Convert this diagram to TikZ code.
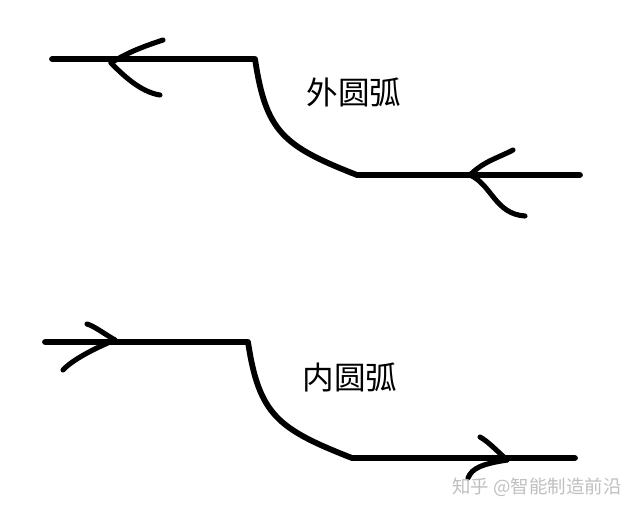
\documentclass[tikz,border=0pt]{standalone}
\usepackage{fontspec}
\newfontfamily\cjk{Noto Sans CJK SC}
\usetikzlibrary{positioning, calc}
\tikzset{
  pen/.style={line width=3.3pt, line cap=round, line join=round, draw=black},
  barb/.style={line width=2.9pt, line cap=round, draw=black},
  arclabel/.style={font=\cjk\fontsize{18}{20}\selectfont, inner sep=0pt},
  watermark/.style={font=\cjk\fontsize{10.5}{12}\selectfont, text=black!25, inner sep=0pt},
}

\begin{document}
\begin{tikzpicture}[x=0.02cm, y=-0.02cm]
\useasboundingbox (0,0) rectangle (640,511);
% outer arc (top)
\coordinate (o1) at (52,59);
\coordinate (o2) at (255,59);
\coordinate (o3) at (357,175);
\coordinate (o4) at (580,175);
\draw[pen] (o1) -- (o2) .. controls (266,132) and (283,146) .. (o3) -- (o4);
\coordinate (otipA) at (111,63);
\coordinate (otipB) at (470,175);
\draw[barb] (otipA) .. controls (128,52) and (145,46) .. (163,40);
\draw[barb] (otipA) .. controls (122,74) and (140,92) .. (160,95);
\draw[barb] (otipB) .. controls (484,161) and (498,158) .. (513,150);
\draw[barb] (otipB) .. controls (492,185) and (495,214) .. (525,216);
\node[arclabel] (outer) at (354,92) {外圆弧};
% inner arc (bottom)
\coordinate (i1) at (45,342);
\coordinate (i2) at (248,342);
\coordinate (i3) at (352,458);
\coordinate (i4) at (575,458);
\draw[pen] (i1) -- (i2) .. controls (259,415) and (278,429) .. (i3) -- (i4);
\coordinate (itipA) at (115,340);
\coordinate (itipB) at (507,460);
\draw[barb] (itipA) .. controls (103,333) and (94,326) .. (87,324);
\draw[barb] (itipA) .. controls (95,348) and (72,360) .. (63,370);
\draw[barb] (itipB) .. controls (492,446) and (487,441) .. (480,437);
\draw[barb] (itipB) .. controls (482,464) and (472,468) .. (468,478);
\node[arclabel] (inner) at (350,377) {内圆弧};
% watermark
\node[watermark] (zhihu) at (537,487) {知乎 @智能制造前沿};
\end{tikzpicture}
\end{document}
